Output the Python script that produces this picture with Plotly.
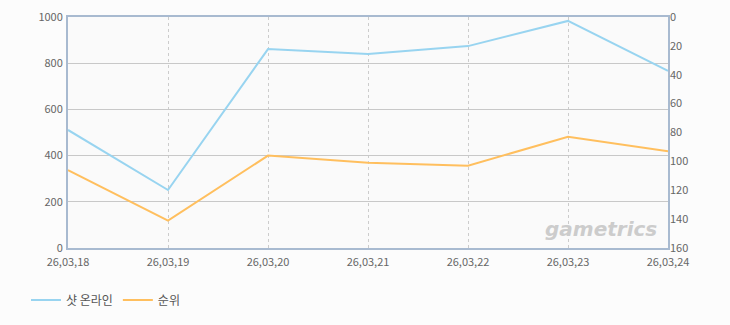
import plotly.graph_objects as go

dates = ["26,03,18", "26,03,19", "26,03,20", "26,03,21", "26,03,22", "26,03,23", "26,03,24"]
shot_online = [511, 251, 861, 840, 874, 983, 767]
rank = [106, 141, 96, 101, 103, 83, 93]

left_ticks = [0, 200, 400, 600, 800, 1000]
right_ticks = [0, 20, 40, 60, 80, 100, 120, 140, 160]

font_fam = "Noto Sans CJK KR, DejaVu Sans, sans-serif"
tick_font = dict(family=font_fam, size=11, color="#666666")

fig = go.Figure()
fig.add_trace(go.Scatter(x=list(range(len(dates))), y=shot_online, name="샷 온라인",
                         mode="lines", line=dict(color="#98d4f0", width=2), yaxis="y"))
fig.add_trace(go.Scatter(x=list(range(len(dates))), y=rank, name="순위",
                         mode="lines", line=dict(color="#ffbf5e", width=2), yaxis="y2"))

fig.update_layout(
    width=730, height=325,
    margin=dict(l=68, r=62, t=17, b=77, autoexpand=False),
    paper_bgcolor="#fcfcfc",
    plot_bgcolor="#fafafa",
    showlegend=True,
    legend=dict(orientation="h", x=-0.07, y=-0.225, xanchor="left", yanchor="middle",
                font=dict(family=font_fam, size=12, color="#555555"),
                bgcolor="rgba(0,0,0,0)"),
    xaxis=dict(
        range=[0, len(dates) - 1],
        tickmode="array", tickvals=list(range(len(dates))), ticktext=dates,
        showgrid=True, gridcolor="#cccccc", griddash="3px,3px", gridwidth=1,
        showline=True, linecolor="#a8bad0", linewidth=2, mirror=True,
        tickfont=tick_font, ticks="", zeroline=False, ticklabelstandoff=3,
    ),
    yaxis=dict(
        range=[0, 1000], tickvals=left_ticks,
        showgrid=True, gridcolor="#c8c8c8", gridwidth=1,
        showline=True, linecolor="#a8bad0", linewidth=2, mirror=True,
        tickfont=tick_font, ticks="", zeroline=False, ticklabelstandoff=1,
    ),
    yaxis2=dict(
        range=[160, 0], tickvals=right_ticks, overlaying="y", side="right",
        showgrid=False, showline=False, tickfont=tick_font, ticks="", zeroline=False,
        ticklabelstandoff=1,
    ),
    annotations=[dict(text="<b><i>gametrics</i></b>", xref="paper", yref="paper",
                      x=0.985, y=0.02, xanchor="right", yanchor="bottom", showarrow=False,
                      font=dict(family="DejaVu Sans, sans-serif", size=20, color="#cccccc"))],
)

fig.write_html("out.html")
